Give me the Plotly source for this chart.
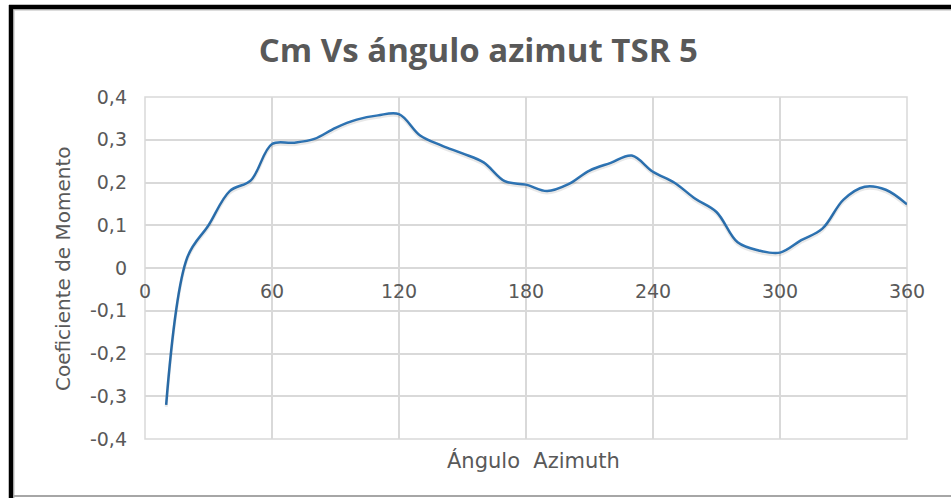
import plotly.graph_objects as go

# Moment coefficient vs azimuth angle, TSR 5
angulo = [10, 20, 30, 40, 50, 60, 70, 80, 90, 100, 110, 120, 130, 140, 150, 160, 170, 180,
          190, 200, 210, 220, 230, 240, 250, 260, 270, 280, 290, 300, 310, 320, 330, 340, 350, 360]
cm = [-0.32, 0.025, 0.10, 0.18, 0.205, 0.29, 0.293, 0.302, 0.328, 0.347, 0.357, 0.360,
      0.310, 0.287, 0.268, 0.247, 0.203, 0.195, 0.180, 0.196, 0.228, 0.246, 0.263, 0.225,
      0.200, 0.162, 0.131, 0.060, 0.041, 0.036, 0.065, 0.092, 0.160, 0.190, 0.183, 0.149]

x_ticks = [0, 60, 120, 180, 240, 300, 360]
x_ticktext = ["0", "60", "120", "180", "240", "300", "360"]
y_ticks = [-0.4, -0.3, -0.2, -0.1, 0, 0.1, 0.2, 0.3, 0.4]
y_ticktext = ["-0,4", "-0,3", "-0,2", "-0,1", "0", "0,1", "0,2", "0,3", "0,4"]

W, H = 951, 498
ML, MR, MT, MB = 145, 44, 97, 59
PW, PH = W - ML - MR, H - MT - MB

def px(xp):
    return (xp - ML) / PW

def py(yp):
    return (H - MB - yp) / PH

grid = "#d9d9d9"
txt = "#595959"
y_range = [-0.4, 0.4]
# soft drop shadow: same series on an overlaid axis shifted down by ~2 px
shift = 2 * (y_range[1] - y_range[0]) / PH

fig = go.Figure()
fig.add_trace(go.Scatter(
    x=angulo, y=cm, mode="lines", yaxis="y2",
    line=dict(color="rgba(0,0,0,0.09)", width=3, shape="spline", smoothing=1),
    hoverinfo="skip", showlegend=False,
))
fig.add_trace(go.Scatter(
    x=angulo, y=cm, mode="lines",
    line=dict(color="#2e75b6", width=2.5, shape="spline", smoothing=1),
    hoverinfo="x+y", showlegend=False,
))

fig.update_layout(
    width=W, height=H,
    margin=dict(l=ML, r=MR, t=MT, b=MB),
    paper_bgcolor="white", plot_bgcolor="white",
    title=dict(text="Cm Vs ángulo azimut TSR 5", x=0.503, xanchor="center",
               y=1 - 50 / H, yanchor="middle",
               font=dict(family="Open Sans", size=33, color=txt, weight=700)),
    xaxis=dict(range=[0, 360], tickvals=x_ticks, ticktext=x_ticktext,
               anchor="free", position=0.5, showline=False, zeroline=False,
               showgrid=True, gridcolor=grid, gridwidth=1.5,
               ticks="", ticklabelstandoff=10,
               tickfont=dict(family="DejaVu Sans", size=19, color=txt)),
    yaxis=dict(range=y_range, tickvals=y_ticks, ticktext=y_ticktext,
               showline=False, zeroline=False, showgrid=True, gridcolor=grid, gridwidth=1.5,
               ticks="", ticklabelstandoff=17,
               tickfont=dict(family="DejaVu Sans", size=19, color=txt)),
    yaxis2=dict(range=[y_range[0] + shift, y_range[1] + shift], overlaying="y",
                visible=False, showgrid=False, zeroline=False),
    annotations=[
        dict(text="Ángulo  Azimuth", xref="paper", yref="paper", x=px(533), y=py(460),
             xanchor="center", yanchor="middle", showarrow=False,
             font=dict(family="DejaVu Sans", size=21, color=txt)),
        dict(text="Coeficiente de Momento", xref="paper", yref="paper", x=px(63), y=py(269),
             xanchor="center", yanchor="middle", showarrow=False, textangle=-90,
             font=dict(family="DejaVu Sans", size=20, color=txt)),
    ],
    shapes=[
        # plot-area frame in grid colour
        dict(type="rect", xref="paper", yref="paper", x0=0, y0=0, x1=1, y1=1,
             line=dict(color=grid, width=1.5), layer="below"),
        # outer border of the chart image
        dict(type="line", xref="paper", yref="paper", x0=px(14), x1=px(951), y0=py(10), y1=py(10),
             line=dict(color="#d0d0d0", width=1.5)),
        dict(type="line", xref="paper", yref="paper", x0=px(14), x1=px(14), y0=py(10), y1=py(498),
             line=dict(color="#d0d0d0", width=1.5)),
        dict(type="line", xref="paper", yref="paper", x0=px(9), x1=px(951), y0=py(7), y1=py(7),
             line=dict(color="black", width=4.5)),
        dict(type="line", xref="paper", yref="paper", x0=px(11), x1=px(11), y0=py(5), y1=py(498),
             line=dict(color="black", width=4.5)),
        dict(type="line", xref="paper", yref="paper", x0=px(14), x1=px(951), y0=py(496), y1=py(496),
             line=dict(color="#a6a6a6", width=2)),
    ],
)

fig.write_html("out.html")
